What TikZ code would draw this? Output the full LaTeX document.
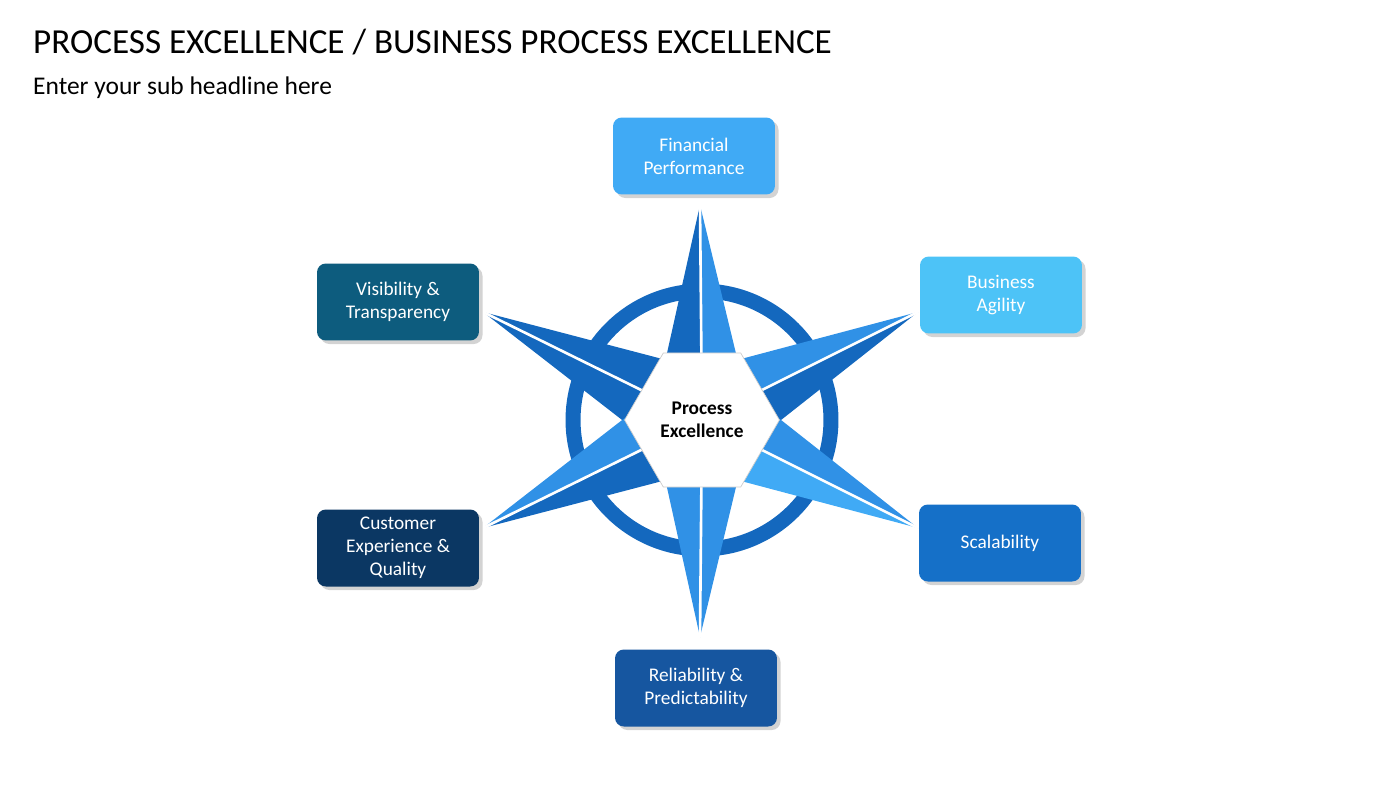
\documentclass[tikz,border=0pt]{standalone}
\usepackage{fontspec}
\setmainfont{Carlito}
\usetikzlibrary{calc, shadows, shapes.geometric}
\definecolor{pe_sky}{RGB}{64, 170, 245}
\definecolor{pe_cyan}{RGB}{77, 195, 247}
\definecolor{pe_teal}{RGB}{13, 92, 126}
\definecolor{pe_mid}{RGB}{21, 112, 200}
\definecolor{pe_navy}{RGB}{11, 55, 99}
\definecolor{pe_deep}{RGB}{22, 86, 160}
\definecolor{pe_dark}{RGB}{20, 104, 190}
\definecolor{pe_light}{RGB}{48, 145, 230}

\begin{document}
\begin{tikzpicture}[x=0.02cm, y=-0.02cm,
            box/.style={rounded corners=5pt, align=center, text=white,
                        minimum width=3.24cm, minimum height=1.54cm,
                        font=\fontsize{11}{13}\selectfont,
                        drop shadow={opacity=0.35, shadow xshift=2pt, shadow yshift=-2pt}}]
            \useasboundingbox (0,0) rectangle (1400,788);
            % titles
            \node[anchor=west, font=\fontsize{20}{24}\selectfont] (title)
              at (27,42) {PROCESS EXCELLENCE / BUSINESS PROCESS EXCELLENCE};
            \node[anchor=west, font=\fontsize{14.5}{17}\selectfont] (sub)
              at (27,88) {Enter your sub headline here};
            % ring
            \coordinate (c) at (702,420);
            \draw[pe_dark, line width=0.3cm] (c) circle [radius=2.58cm];
            % arms: tip / dark half / light half
            \foreach \tx/\ty/\cd/\cl in {700/205/pe_dark/pe_light, 700/637/pe_light/pe_light,
                483/312/pe_dark/pe_dark, 918/312/pe_light/pe_dark,
                483/528/pe_dark/pe_light, 918/528/pe_light/pe_sky}{
              \coordinate (tip) at (\tx,\ty);
              \fill[\cd] (tip) -- ($(c)!1cm!90:(tip)$) -- (c) -- cycle;
              \fill[\cl] (tip) -- ($(c)!1cm!-90:(tip)$) -- (c) -- cycle;
              \draw[white, line width=1.5pt] (tip) -- (c);
            }
            % centre
            \node[regular polygon, regular polygon sides=6, minimum size=3.0cm,
                  fill=white, draw=gray!40, align=center,
                  font=\fontsize{11}{13}\selectfont\bfseries] (core) at (c)
              {Process\\Excellence};
            % boxes
            \node[box, fill=pe_sky] (fin) at (694,156) {Financial\\Performance};
            \node[box, fill=pe_cyan] (agil) at (1001,295) {Business\\Agility};
            \node[box, fill=pe_teal] (vis) at (398,302) {Visibility \&\\Transparency};
            \node[box, fill=pe_mid] (scal) at (1000,543) {Scalability};
            \node[box, fill=pe_navy] (cust) at (398,548) {Customer\\Experience \&\\Quality};
            \node[box, fill=pe_deep] (rel) at (696,688) {Reliability \&\\Predictability};
          \end{tikzpicture}
\end{document}
